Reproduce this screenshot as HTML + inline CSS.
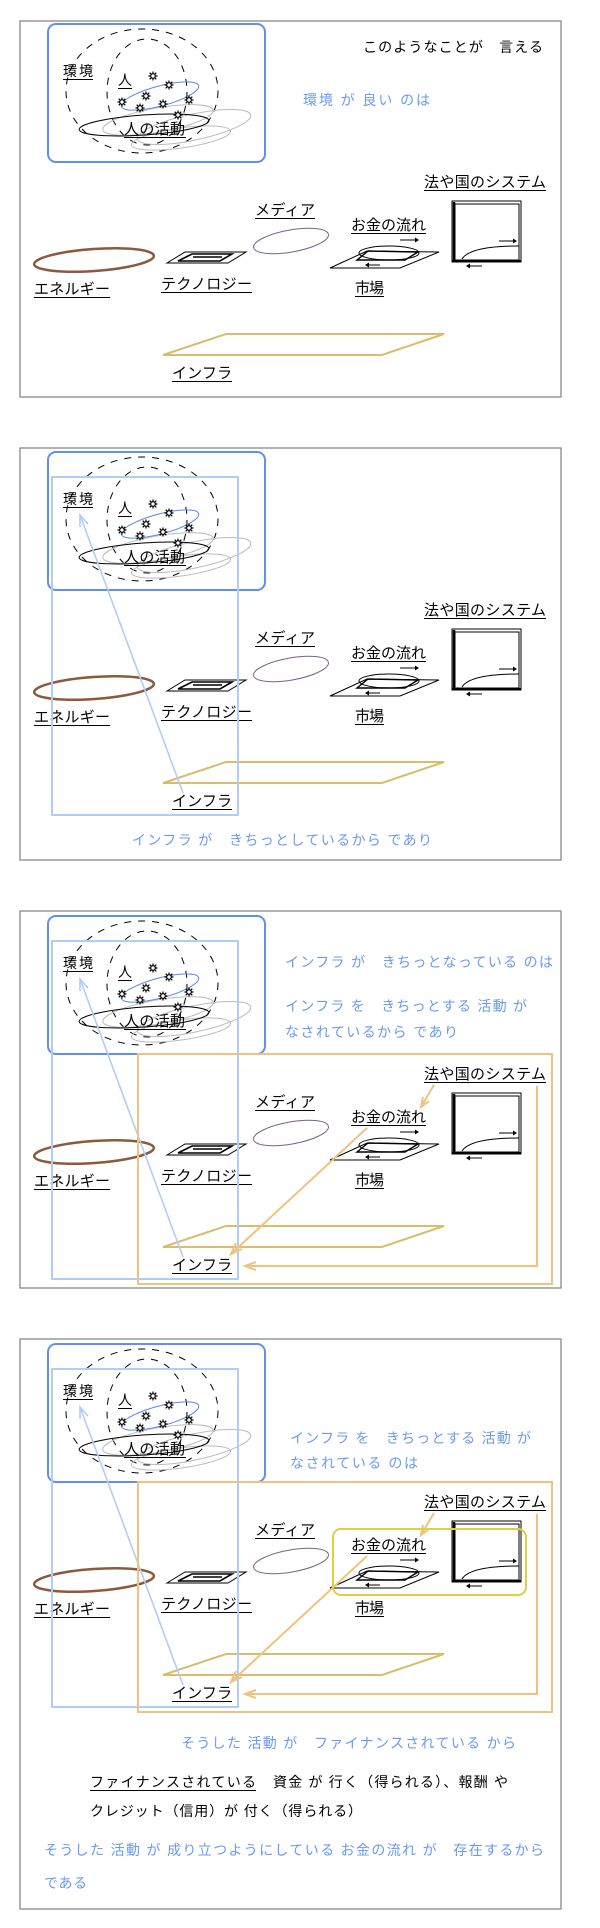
<!DOCTYPE html>
<html><head><meta charset="utf-8"><style>
html,body{margin:0;padding:0;background:#fff;}
svg{display:block;}
text{font-family:"Liberation Sans","Noto Sans CJK JP",sans-serif;}
</style></head><body>
<svg width="600" height="1928" viewBox="0 0 600 1928" xmlns="http://www.w3.org/2000/svg" xmlns:xlink="http://www.w3.org/1999/xlink">
<defs>
<g id="st"><circle r="2.3" fill="#fff" stroke="#000" stroke-width="1.1"/><path d="M-4.5,0H-2.3M2.3,0H4.5M0,-4.5V-2.3M0,2.3V4.5M-3.3,-3.3L-1.6,-1.6M1.6,1.6L3.3,3.3M-3.3,3.3L-1.6,1.6M1.6,-1.6L3.3,-3.3" stroke="#000" stroke-width="1.2"/></g>
</defs>
<g fill="none" stroke="#888" stroke-width="1.3">
<rect x="20" y="21" width="541" height="376"/>
<rect x="20" y="448" width="541" height="412"/>
<rect x="20" y="911" width="541" height="377"/>
<rect x="20" y="1339" width="541" height="570"/>
</g>

<!-- PANEL 1 -->
<g transform="translate(0,24)">
<rect x="48" y="0" width="217" height="138" rx="8" fill="none" stroke="#5f8ff0" stroke-width="2"/>
<ellipse cx="142" cy="67" rx="76" ry="62" fill="none" stroke="#000" stroke-dasharray="7,7"/>
<ellipse cx="147" cy="68" rx="40" ry="53" fill="none" stroke="#000" stroke-dasharray="7,7"/>
<ellipse cx="160" cy="72" rx="40" ry="10" transform="rotate(-15 160 72)" fill="none" stroke="#5b86e0"/>
<ellipse cx="158" cy="96" rx="56" ry="12" transform="rotate(-10 158 96)" fill="none" stroke="#bbb"/>
<ellipse cx="194" cy="103" rx="58" ry="13" transform="rotate(-12 194 103)" fill="none" stroke="#bbb"/>
<ellipse cx="181" cy="114" rx="50" ry="10" transform="rotate(-8 181 114)" fill="none" stroke="#bbb"/>
<ellipse cx="144" cy="101" rx="65" ry="10" transform="rotate(-4 144 101)" fill="none" stroke="#000"/>
<g><use href="#st" x="153" y="52"/><use href="#st" x="169" y="61"/><use href="#st" x="146" y="72"/><use href="#st" x="122" y="78"/><use href="#st" x="163" y="80"/><use href="#st" x="189" y="76"/><use href="#st" x="140" y="84"/><use href="#st" x="178" y="91"/></g>
<g font-size="14" fill="#000">
<text x="63" y="52" textLength="30">環境</text><line x1="63" y1="55.5" x2="93" y2="55.5" stroke="#000"/>
<text x="118" y="61">人</text><line x1="118" y1="64.5" x2="132" y2="64.5" stroke="#000"/>
<text x="124" y="110" font-size="15" textLength="61">人の活動</text><line x1="124" y1="113.5" x2="186" y2="113.5" stroke="#000"/>
<text x="424" y="163" font-size="15" textLength="122">法や国のシステム</text><line x1="424" y1="166.5" x2="546" y2="166.5" stroke="#000"/>
<text x="255" y="191" font-size="15" textLength="60">メディア</text><line x1="255" y1="194.5" x2="315" y2="194.5" stroke="#000"/>
<text x="351" y="206" font-size="15" textLength="75">お金の流れ</text><line x1="351" y1="209.5" x2="426" y2="209.5" stroke="#000"/>
<text x="355" y="269" font-size="15" textLength="29">市場</text><line x1="355" y1="272.5" x2="384" y2="272.5" stroke="#000"/>
<text x="34" y="270" font-size="15" textLength="76">エネルギー</text><line x1="34" y1="273.5" x2="110" y2="273.5" stroke="#000"/>
<text x="161" y="265" font-size="15" textLength="91">テクノロジー</text><line x1="161" y1="268.5" x2="252" y2="268.5" stroke="#000"/>
<text x="172" y="354" font-size="15" textLength="60">インフラ</text><line x1="172" y1="357.5" x2="232" y2="357.5" stroke="#000"/>
</g>
<ellipse cx="291" cy="217" rx="38" ry="11" transform="rotate(-10 291 217)" fill="none" stroke="#806080"/>
<ellipse cx="94" cy="236" rx="60" ry="11" transform="rotate(-4 94 236)" fill="none" stroke="#8b5a3c" stroke-width="2.5"/>
<polygon points="167,239 185,228 246,228 228,239" fill="none" stroke="#000"/>
<polygon points="178,237 192,230 232,230 220,237" fill="none" stroke="#000" stroke-width="1.6"/>
<line x1="193" y1="233" x2="222" y2="233" stroke="#000" stroke-width="1.5"/>
<polygon points="330,244 367,227 439,228 400,244" fill="none" stroke="#000"/>
<ellipse cx="389" cy="229" rx="30" ry="7" fill="none" stroke="#000"/>
<polygon points="357,236 368,227 418,228 405,236" fill="none" stroke="#000" stroke-width="1.4"/>
<line x1="400" y1="216" x2="415" y2="216" stroke="#000"/><polygon points="415,213.5 419,216 415,218.5" fill="#000"/>
<line x1="369" y1="241" x2="380" y2="241" stroke="#000"/><polygon points="369,238.5 365,241 369,243.5" fill="#000"/>
<rect x="452" y="177" width="69" height="61" fill="none" stroke="#000"/>
<rect x="455" y="180" width="64" height="56" fill="none" stroke="#000"/>
<line x1="454" y1="178" x2="454" y2="238" stroke="#000" stroke-width="2.5"/>
<line x1="452" y1="237" x2="521" y2="237" stroke="#000" stroke-width="2"/>
<path d="M462,235 Q470,222 519,222" fill="none" stroke="#000"/>
<line x1="499" y1="217" x2="513" y2="217" stroke="#000"/><polygon points="513,214.5 517,217 513,219.5" fill="#000"/>
<line x1="470" y1="242" x2="482" y2="242" stroke="#000"/><polygon points="470,239.5 466,242 470,244.5" fill="#000"/>
<polygon points="163,331 226,310 444,310 382,331" fill="none" stroke="#d9bd6f" stroke-width="2"/>
</g>
<text x="363" y="52" font-size="14" fill="#000" textLength="180">このようなことが　言える</text>
<text x="303" y="105" font-size="14" fill="#6a9af0" textLength="127">環境 が 良い のは</text>

<!-- PANEL 2 -->
<g transform="translate(0,452)">
<rect x="48" y="0" width="217" height="138" rx="8" fill="none" stroke="#5f8ff0" stroke-width="2"/>
<ellipse cx="142" cy="67" rx="76" ry="62" fill="none" stroke="#000" stroke-dasharray="7,7"/>
<ellipse cx="147" cy="68" rx="40" ry="53" fill="none" stroke="#000" stroke-dasharray="7,7"/>
<ellipse cx="160" cy="72" rx="40" ry="10" transform="rotate(-15 160 72)" fill="none" stroke="#5b86e0"/>
<ellipse cx="158" cy="96" rx="56" ry="12" transform="rotate(-10 158 96)" fill="none" stroke="#bbb"/>
<ellipse cx="194" cy="103" rx="58" ry="13" transform="rotate(-12 194 103)" fill="none" stroke="#bbb"/>
<ellipse cx="181" cy="114" rx="50" ry="10" transform="rotate(-8 181 114)" fill="none" stroke="#bbb"/>
<ellipse cx="144" cy="101" rx="65" ry="10" transform="rotate(-4 144 101)" fill="none" stroke="#000"/>
<g><use href="#st" x="153" y="52"/><use href="#st" x="169" y="61"/><use href="#st" x="146" y="72"/><use href="#st" x="122" y="78"/><use href="#st" x="163" y="80"/><use href="#st" x="189" y="76"/><use href="#st" x="140" y="84"/><use href="#st" x="178" y="91"/></g>
<g font-size="14" fill="#000">
<text x="63" y="52" textLength="30">環境</text><line x1="63" y1="55.5" x2="93" y2="55.5" stroke="#000"/>
<text x="118" y="61">人</text><line x1="118" y1="64.5" x2="132" y2="64.5" stroke="#000"/>
<text x="124" y="110" font-size="15" textLength="61">人の活動</text><line x1="124" y1="113.5" x2="186" y2="113.5" stroke="#000"/>
<text x="424" y="163" font-size="15" textLength="122">法や国のシステム</text><line x1="424" y1="166.5" x2="546" y2="166.5" stroke="#000"/>
<text x="255" y="191" font-size="15" textLength="60">メディア</text><line x1="255" y1="194.5" x2="315" y2="194.5" stroke="#000"/>
<text x="351" y="206" font-size="15" textLength="75">お金の流れ</text><line x1="351" y1="209.5" x2="426" y2="209.5" stroke="#000"/>
<text x="355" y="269" font-size="15" textLength="29">市場</text><line x1="355" y1="272.5" x2="384" y2="272.5" stroke="#000"/>
<text x="34" y="270" font-size="15" textLength="76">エネルギー</text><line x1="34" y1="273.5" x2="110" y2="273.5" stroke="#000"/>
<text x="161" y="265" font-size="15" textLength="91">テクノロジー</text><line x1="161" y1="268.5" x2="252" y2="268.5" stroke="#000"/>
<text x="172" y="354" font-size="15" textLength="60">インフラ</text><line x1="172" y1="357.5" x2="232" y2="357.5" stroke="#000"/>
</g>
<ellipse cx="291" cy="217" rx="38" ry="11" transform="rotate(-10 291 217)" fill="none" stroke="#806080"/>
<ellipse cx="94" cy="236" rx="60" ry="11" transform="rotate(-4 94 236)" fill="none" stroke="#8b5a3c" stroke-width="2.5"/>
<polygon points="167,239 185,228 246,228 228,239" fill="none" stroke="#000"/>
<polygon points="178,237 192,230 232,230 220,237" fill="none" stroke="#000" stroke-width="1.6"/>
<line x1="193" y1="233" x2="222" y2="233" stroke="#000" stroke-width="1.5"/>
<polygon points="330,244 367,227 439,228 400,244" fill="none" stroke="#000"/>
<ellipse cx="389" cy="229" rx="30" ry="7" fill="none" stroke="#000"/>
<polygon points="357,236 368,227 418,228 405,236" fill="none" stroke="#000" stroke-width="1.4"/>
<line x1="400" y1="216" x2="415" y2="216" stroke="#000"/><polygon points="415,213.5 419,216 415,218.5" fill="#000"/>
<line x1="369" y1="241" x2="380" y2="241" stroke="#000"/><polygon points="369,238.5 365,241 369,243.5" fill="#000"/>
<rect x="452" y="177" width="69" height="61" fill="none" stroke="#000"/>
<rect x="455" y="180" width="64" height="56" fill="none" stroke="#000"/>
<line x1="454" y1="178" x2="454" y2="238" stroke="#000" stroke-width="2.5"/>
<line x1="452" y1="237" x2="521" y2="237" stroke="#000" stroke-width="2"/>
<path d="M462,235 Q470,222 519,222" fill="none" stroke="#000"/>
<line x1="499" y1="217" x2="513" y2="217" stroke="#000"/><polygon points="513,214.5 517,217 513,219.5" fill="#000"/>
<line x1="470" y1="242" x2="482" y2="242" stroke="#000"/><polygon points="470,239.5 466,242 470,244.5" fill="#000"/>
<polygon points="163,331 226,310 444,310 382,331" fill="none" stroke="#d9bd6f" stroke-width="2"/>
<rect x="52" y="25" width="186" height="338" fill="none" stroke="#b0cdf8" stroke-width="2"/>
<g stroke="#b0cdf8" stroke-width="1.6" fill="none"><line x1="183" y1="341" x2="80" y2="63"/><polyline points="80,75 80,63 88,72"/></g>
</g>
<text x="132" y="845" font-size="14" fill="#6a9af0" textLength="300">インフラ が　きちっとしているから であり</text>

<!-- PANEL 3 -->
<g transform="translate(0,916)">
<rect x="48" y="0" width="217" height="138" rx="8" fill="none" stroke="#5f8ff0" stroke-width="2"/>
<ellipse cx="142" cy="67" rx="76" ry="62" fill="none" stroke="#000" stroke-dasharray="7,7"/>
<ellipse cx="147" cy="68" rx="40" ry="53" fill="none" stroke="#000" stroke-dasharray="7,7"/>
<ellipse cx="160" cy="72" rx="40" ry="10" transform="rotate(-15 160 72)" fill="none" stroke="#5b86e0"/>
<ellipse cx="158" cy="96" rx="56" ry="12" transform="rotate(-10 158 96)" fill="none" stroke="#bbb"/>
<ellipse cx="194" cy="103" rx="58" ry="13" transform="rotate(-12 194 103)" fill="none" stroke="#bbb"/>
<ellipse cx="181" cy="114" rx="50" ry="10" transform="rotate(-8 181 114)" fill="none" stroke="#bbb"/>
<ellipse cx="144" cy="101" rx="65" ry="10" transform="rotate(-4 144 101)" fill="none" stroke="#000"/>
<g><use href="#st" x="153" y="52"/><use href="#st" x="169" y="61"/><use href="#st" x="146" y="72"/><use href="#st" x="122" y="78"/><use href="#st" x="163" y="80"/><use href="#st" x="189" y="76"/><use href="#st" x="140" y="84"/><use href="#st" x="178" y="91"/></g>
<g font-size="14" fill="#000">
<text x="63" y="52" textLength="30">環境</text><line x1="63" y1="55.5" x2="93" y2="55.5" stroke="#000"/>
<text x="118" y="61">人</text><line x1="118" y1="64.5" x2="132" y2="64.5" stroke="#000"/>
<text x="124" y="110" font-size="15" textLength="61">人の活動</text><line x1="124" y1="113.5" x2="186" y2="113.5" stroke="#000"/>
<text x="424" y="163" font-size="15" textLength="122">法や国のシステム</text><line x1="424" y1="166.5" x2="546" y2="166.5" stroke="#000"/>
<text x="255" y="191" font-size="15" textLength="60">メディア</text><line x1="255" y1="194.5" x2="315" y2="194.5" stroke="#000"/>
<text x="351" y="206" font-size="15" textLength="75">お金の流れ</text><line x1="351" y1="209.5" x2="426" y2="209.5" stroke="#000"/>
<text x="355" y="269" font-size="15" textLength="29">市場</text><line x1="355" y1="272.5" x2="384" y2="272.5" stroke="#000"/>
<text x="34" y="270" font-size="15" textLength="76">エネルギー</text><line x1="34" y1="273.5" x2="110" y2="273.5" stroke="#000"/>
<text x="161" y="265" font-size="15" textLength="91">テクノロジー</text><line x1="161" y1="268.5" x2="252" y2="268.5" stroke="#000"/>
<text x="172" y="354" font-size="15" textLength="60">インフラ</text><line x1="172" y1="357.5" x2="232" y2="357.5" stroke="#000"/>
</g>
<ellipse cx="291" cy="217" rx="38" ry="11" transform="rotate(-10 291 217)" fill="none" stroke="#806080"/>
<ellipse cx="94" cy="236" rx="60" ry="11" transform="rotate(-4 94 236)" fill="none" stroke="#8b5a3c" stroke-width="2.5"/>
<polygon points="167,239 185,228 246,228 228,239" fill="none" stroke="#000"/>
<polygon points="178,237 192,230 232,230 220,237" fill="none" stroke="#000" stroke-width="1.6"/>
<line x1="193" y1="233" x2="222" y2="233" stroke="#000" stroke-width="1.5"/>
<polygon points="330,244 367,227 439,228 400,244" fill="none" stroke="#000"/>
<ellipse cx="389" cy="229" rx="30" ry="7" fill="none" stroke="#000"/>
<polygon points="357,236 368,227 418,228 405,236" fill="none" stroke="#000" stroke-width="1.4"/>
<line x1="400" y1="216" x2="415" y2="216" stroke="#000"/><polygon points="415,213.5 419,216 415,218.5" fill="#000"/>
<line x1="369" y1="241" x2="380" y2="241" stroke="#000"/><polygon points="369,238.5 365,241 369,243.5" fill="#000"/>
<rect x="452" y="177" width="69" height="61" fill="none" stroke="#000"/>
<rect x="455" y="180" width="64" height="56" fill="none" stroke="#000"/>
<line x1="454" y1="178" x2="454" y2="238" stroke="#000" stroke-width="2.5"/>
<line x1="452" y1="237" x2="521" y2="237" stroke="#000" stroke-width="2"/>
<path d="M462,235 Q470,222 519,222" fill="none" stroke="#000"/>
<line x1="499" y1="217" x2="513" y2="217" stroke="#000"/><polygon points="513,214.5 517,217 513,219.5" fill="#000"/>
<line x1="470" y1="242" x2="482" y2="242" stroke="#000"/><polygon points="470,239.5 466,242 470,244.5" fill="#000"/>
<polygon points="163,331 226,310 444,310 382,331" fill="none" stroke="#d9bd6f" stroke-width="2"/>
<rect x="52" y="25" width="186" height="338" fill="none" stroke="#b0cdf8" stroke-width="2"/>
<g stroke="#b0cdf8" stroke-width="1.6" fill="none"><line x1="183" y1="341" x2="80" y2="63"/><polyline points="80,75 80,63 88,72"/></g>
<rect x="138" y="138" width="414" height="230" fill="none" stroke="#f0c27f" stroke-width="2"/>
<g stroke="#f0c27f" stroke-width="2" fill="none">
<line x1="434" y1="169" x2="421" y2="191"/><polyline points="429,185 421,191 423,181"/>
<line x1="367" y1="212" x2="231" y2="338"/><polyline points="242,333 231,338 236,327"/>
<polyline points="537,170 537,350 245,350"/><polyline points="256,346 245,350 256,354"/>
</g>
</g>
<g font-size="14" fill="#6a9af0">
<text x="285" y="967" textLength="268">インフラ が　きちっとなっている のは</text>
<text x="285" y="1011" textLength="242">インフラ を　きちっとする 活動 が</text>
<text x="285" y="1037" textLength="173">なされているから であり</text>
</g>

<!-- PANEL 4 -->
<g transform="translate(0,1344)">
<rect x="48" y="0" width="217" height="138" rx="8" fill="none" stroke="#5f8ff0" stroke-width="2"/>
<ellipse cx="142" cy="67" rx="76" ry="62" fill="none" stroke="#000" stroke-dasharray="7,7"/>
<ellipse cx="147" cy="68" rx="40" ry="53" fill="none" stroke="#000" stroke-dasharray="7,7"/>
<ellipse cx="160" cy="72" rx="40" ry="10" transform="rotate(-15 160 72)" fill="none" stroke="#5b86e0"/>
<ellipse cx="158" cy="96" rx="56" ry="12" transform="rotate(-10 158 96)" fill="none" stroke="#bbb"/>
<ellipse cx="194" cy="103" rx="58" ry="13" transform="rotate(-12 194 103)" fill="none" stroke="#bbb"/>
<ellipse cx="181" cy="114" rx="50" ry="10" transform="rotate(-8 181 114)" fill="none" stroke="#bbb"/>
<ellipse cx="144" cy="101" rx="65" ry="10" transform="rotate(-4 144 101)" fill="none" stroke="#000"/>
<g><use href="#st" x="153" y="52"/><use href="#st" x="169" y="61"/><use href="#st" x="146" y="72"/><use href="#st" x="122" y="78"/><use href="#st" x="163" y="80"/><use href="#st" x="189" y="76"/><use href="#st" x="140" y="84"/><use href="#st" x="178" y="91"/></g>
<g font-size="14" fill="#000">
<text x="63" y="52" textLength="30">環境</text><line x1="63" y1="55.5" x2="93" y2="55.5" stroke="#000"/>
<text x="118" y="61">人</text><line x1="118" y1="64.5" x2="132" y2="64.5" stroke="#000"/>
<text x="124" y="110" font-size="15" textLength="61">人の活動</text><line x1="124" y1="113.5" x2="186" y2="113.5" stroke="#000"/>
<text x="424" y="163" font-size="15" textLength="122">法や国のシステム</text><line x1="424" y1="166.5" x2="546" y2="166.5" stroke="#000"/>
<text x="255" y="191" font-size="15" textLength="60">メディア</text><line x1="255" y1="194.5" x2="315" y2="194.5" stroke="#000"/>
<text x="351" y="206" font-size="15" textLength="75">お金の流れ</text><line x1="351" y1="209.5" x2="426" y2="209.5" stroke="#000"/>
<text x="355" y="269" font-size="15" textLength="29">市場</text><line x1="355" y1="272.5" x2="384" y2="272.5" stroke="#000"/>
<text x="34" y="270" font-size="15" textLength="76">エネルギー</text><line x1="34" y1="273.5" x2="110" y2="273.5" stroke="#000"/>
<text x="161" y="265" font-size="15" textLength="91">テクノロジー</text><line x1="161" y1="268.5" x2="252" y2="268.5" stroke="#000"/>
<text x="172" y="354" font-size="15" textLength="60">インフラ</text><line x1="172" y1="357.5" x2="232" y2="357.5" stroke="#000"/>
</g>
<ellipse cx="291" cy="217" rx="38" ry="11" transform="rotate(-10 291 217)" fill="none" stroke="#806080"/>
<ellipse cx="94" cy="236" rx="60" ry="11" transform="rotate(-4 94 236)" fill="none" stroke="#8b5a3c" stroke-width="2.5"/>
<polygon points="167,239 185,228 246,228 228,239" fill="none" stroke="#000"/>
<polygon points="178,237 192,230 232,230 220,237" fill="none" stroke="#000" stroke-width="1.6"/>
<line x1="193" y1="233" x2="222" y2="233" stroke="#000" stroke-width="1.5"/>
<polygon points="330,244 367,227 439,228 400,244" fill="none" stroke="#000"/>
<ellipse cx="389" cy="229" rx="30" ry="7" fill="none" stroke="#000"/>
<polygon points="357,236 368,227 418,228 405,236" fill="none" stroke="#000" stroke-width="1.4"/>
<line x1="400" y1="216" x2="415" y2="216" stroke="#000"/><polygon points="415,213.5 419,216 415,218.5" fill="#000"/>
<line x1="369" y1="241" x2="380" y2="241" stroke="#000"/><polygon points="369,238.5 365,241 369,243.5" fill="#000"/>
<rect x="452" y="177" width="69" height="61" fill="none" stroke="#000"/>
<rect x="455" y="180" width="64" height="56" fill="none" stroke="#000"/>
<line x1="454" y1="178" x2="454" y2="238" stroke="#000" stroke-width="2.5"/>
<line x1="452" y1="237" x2="521" y2="237" stroke="#000" stroke-width="2"/>
<path d="M462,235 Q470,222 519,222" fill="none" stroke="#000"/>
<line x1="499" y1="217" x2="513" y2="217" stroke="#000"/><polygon points="513,214.5 517,217 513,219.5" fill="#000"/>
<line x1="470" y1="242" x2="482" y2="242" stroke="#000"/><polygon points="470,239.5 466,242 470,244.5" fill="#000"/>
<polygon points="163,331 226,310 444,310 382,331" fill="none" stroke="#d9bd6f" stroke-width="2"/>
<rect x="52" y="25" width="186" height="338" fill="none" stroke="#b0cdf8" stroke-width="2"/>
<g stroke="#b0cdf8" stroke-width="1.6" fill="none"><line x1="183" y1="341" x2="80" y2="63"/><polyline points="80,75 80,63 88,72"/></g>
<rect x="138" y="138" width="414" height="230" fill="none" stroke="#f0c27f" stroke-width="2"/>
<g stroke="#f0c27f" stroke-width="2" fill="none">
<line x1="434" y1="169" x2="421" y2="191"/><polyline points="429,185 421,191 423,181"/>
<line x1="367" y1="212" x2="231" y2="338"/><polyline points="242,333 231,338 236,327"/>
<polyline points="537,170 537,350 245,350"/><polyline points="256,346 245,350 256,354"/>
</g>
<rect x="333" y="185" width="193" height="66" rx="8" fill="none" stroke="#e0d040" stroke-width="2"/>
</g>
<g font-size="14" fill="#6a9af0">
<text x="290" y="1443" textLength="241">インフラ を　きちっとする 活動 が</text>
<text x="290" y="1468" textLength="128">なされている のは</text>
<text x="181" y="1748" textLength="335">そうした 活動 が　ファイナンスされている から</text>
<text x="44" y="1855" textLength="500">そうした 活動 が 成り立つようにしている お金の流れ が　存在するから</text>
<text x="44" y="1888" textLength="43">である</text>
</g>
<g font-size="14" fill="#000">
<text x="90" y="1787" textLength="166">ファイナンスされている</text>
<line x1="90" y1="1790.5" x2="256" y2="1790.5" stroke="#000"/>
<text x="273" y="1787" textLength="235">資金 が 行く（得られる）、報酬 や</text>
<text x="90" y="1816" textLength="272">クレジット（信用）が 付く（得られる）</text>
</g>
</svg>
</body></html>
